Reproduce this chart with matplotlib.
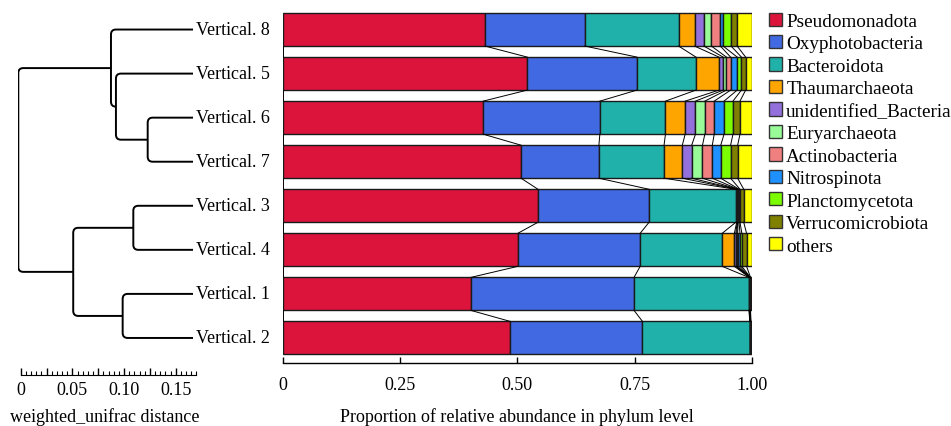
import numpy as np
import matplotlib.pyplot as plt
from matplotlib.path import Path
from matplotlib.patches import PathPatch, Patch

plt.rcParams['font.family'] = ['Liberation Serif', 'DejaVu Serif']
plt.rcParams['font.size'] = 13

# samples, top to bottom (dendrogram leaf order)
samples = ['Vertical. 8', 'Vertical. 5', 'Vertical. 6', 'Vertical. 7',
           'Vertical. 3', 'Vertical. 4', 'Vertical. 1', 'Vertical. 2']

phyla = ['Pseudomonadota', 'Oxyphotobacteria', 'Bacteroidota', 'Thaumarchaeota',
         'unidentified_Bacteria', 'Euryarchaeota', 'Actinobacteria', 'Nitrospinota',
         'Planctomycetota', 'Verrucomicrobiota', 'others']

colors = ['#DC143C', '#4169E1', '#20B2AA', '#FFA500', '#9370DB', '#98FB98',
          '#F08080', '#1E90FF', '#7CFC00', '#808000', '#FFFF00']

# relative abundance per sample (same order as samples), one list per phylum
pseudomonadota    = [0.431, 0.521, 0.427, 0.508, 0.544, 0.501, 0.401, 0.485]
oxyphotobacteria  = [0.213, 0.234, 0.249, 0.166, 0.237, 0.261, 0.348, 0.282]
bacteroidota      = [0.200, 0.126, 0.140, 0.139, 0.185, 0.175, 0.245, 0.229]
thaumarchaeota    = [0.034, 0.049, 0.042, 0.039, 0.002, 0.026, 0.0010, 0.0004]
unident_bacteria  = [0.020, 0.009, 0.022, 0.020, 0.001, 0.003, 0.0005, 0.0003]
euryarchaeota     = [0.016, 0.007, 0.020, 0.023, 0.001, 0.002, 0.0003, 0.0002]
actinobacteria    = [0.019, 0.009, 0.020, 0.021, 0.001, 0.002, 0.0003, 0.0003]
nitrospinota      = [0.006, 0.014, 0.021, 0.018, 0.002, 0.005, 0.0005, 0.0003]
planctomycetota   = [0.017, 0.009, 0.019, 0.021, 0.002, 0.004, 0.0004, 0.0003]
verrucomicrobiota = [0.013, 0.009, 0.015, 0.015, 0.008, 0.010, 0.0005, 0.0007]
others            = [0.031, 0.013, 0.025, 0.030, 0.017, 0.011, 0.0025, 0.0015]

# weighted unifrac clustering: (child a, child b, merge height)
# leaves are 0..7 (rows above), internal nodes are 'n0'...
merges = {
    'n0': (2, 3, 0.0441),
    'n1': (1, 'n0', 0.0748),
    'n2': (0, 'n1', 0.0796),
    'n3': (4, 5, 0.0580),
    'n4': (6, 7, 0.0683),
    'n5': ('n3', 'n4', 0.1161),
    'root': ('n2', 'n5', 0.1692),
}

W, H = 951, 427
fig = plt.figure(figsize=(W / 100, H / 100), dpi=100)


def px_axes(left, top, right, bottom):
    return fig.add_axes([left / W, 1 - bottom / H, (right - left) / W, (bottom - top) / H])


y_top, y_bot = -0.6, 7.557
bar_h = 0.75

# ---- stacked bars ----
ax = px_axes(283, 4.1, 751.7, 363.5)
table = np.array([pseudomonadota, oxyphotobacteria, bacteroidota, thaumarchaeota,
                  unident_bacteria, euryarchaeota, actinobacteria, nitrospinota,
                  planctomycetota, verrucomicrobiota, others])
ypos = np.arange(len(samples))
left = np.zeros(len(samples))
for vals, name, c in zip(table, phyla, colors):
    ax.barh(ypos, vals, left=left, height=bar_h, color=c, edgecolor='#1a1a1a',
            linewidth=1, label=name)
    left = left + vals

# lines linking segment borders of neighbouring bars
cum = np.vstack([np.zeros(len(samples)), np.cumsum(table, axis=0)])
for i in range(len(samples) - 1):
    for b in range(cum.shape[0]):
        ax.plot([cum[b, i], cum[b, i + 1]], [i + bar_h / 2, i + 1 - bar_h / 2],
                color='black', linewidth=0.7)

ax.set_xlim(0, 1)
ax.set_ylim(y_bot, y_top)
ax.set_yticks([])
for s in ['top', 'right', 'left']:
    ax.spines[s].set_visible(False)
ax.spines['bottom'].set_linewidth(1)
ax.set_xticks([0, 0.25, 0.5, 0.75, 1.0])
ax.set_xticklabels(['0', '0.25', '0.50', '0.75', '1.00'])
ax.tick_params(axis='x', direction='in', length=4, width=1, pad=9.5)
ax.set_xlabel('Proportion of relative abundance in phylum level', labelpad=10.5)

# ---- dendrogram ----
dax = px_axes(18.3, 4.1, 193.3, 363.5)
dax.set_xlim(merges['root'][2], 0)
dax.set_ylim(y_bot, y_top)
dax.axis('off')

px_x = 175.0 / merges['root'][2]
px_y = (363.5 - 4.1) / (y_bot - y_top)
pos = {i: (0.0, float(i)) for i in range(len(samples))}


def place(node):
    if node in pos:
        return pos[node]
    a, b, h = merges[node]
    ya = place(a)[1]
    yb = place(b)[1]
    pos[node] = (h, (ya + yb) / 2)
    return pos[node]


place('root')
for node, (a, b, h) in merges.items():
    (ha, ya), (hb, yb) = pos[a], pos[b]
    r = min(5.0, (h - ha) * px_x, (h - hb) * px_x, abs(yb - ya) * px_y / 2)
    rx, ry = r / px_x, r / px_y
    s = 1 if yb > ya else -1
    verts = [(ha, ya), (h - rx, ya), (h, ya), (h, ya + s * ry),
             (h, yb - s * ry), (h, yb), (h - rx, yb), (hb, yb)]
    codes = [Path.MOVETO, Path.LINETO, Path.CURVE3, Path.CURVE3,
             Path.LINETO, Path.CURVE3, Path.CURVE3, Path.LINETO]
    dax.add_patch(PathPatch(Path(verts, codes), facecolor='none',
                            edgecolor='black', linewidth=1.4))

for i, name in enumerate(samples):
    dax.text(-0.0025, i, name, ha='left', va='center', clip_on=False)

# distance scale bar
sax = px_axes(20.7, 300, 196.4, 376)
sax.set_xlim(0, 0.17)
sax.patch.set_visible(False)
sax.set_yticks([])
for s in ['top', 'right', 'left']:
    sax.spines[s].set_visible(False)
sax.set_xticks(np.arange(0, 0.1701, 0.025))
sax.set_xticklabels(['0', '', '0.05', '', '0.10', '', '0.15'])
sax.set_xticks(np.arange(0, 0.1701, 0.005), minor=True)
sax.tick_params(axis='x', which='major', direction='in', length=5, width=1, pad=4)
sax.tick_params(axis='x', which='minor', direction='in', length=3, width=0.8)
fig.text(105 / W, 1 - 416.7 / H, 'weighted_unifrac distance', ha='center', va='center')

# ---- legend ----
handles = [Patch(facecolor=c, edgecolor='#333333', linewidth=1, label=n)
           for n, c in zip(phyla, colors)]
fig.legend(handles=handles, loc='upper left', bbox_to_anchor=(769 / W, 1 - 13.5 / H),
           frameon=False, borderaxespad=0, borderpad=0, fontsize=13.8,
           handlelength=0.68, handleheight=0.68, handletextpad=0.22,
           labelspacing=0.27)

fig.savefig('out.png', dpi=100)
